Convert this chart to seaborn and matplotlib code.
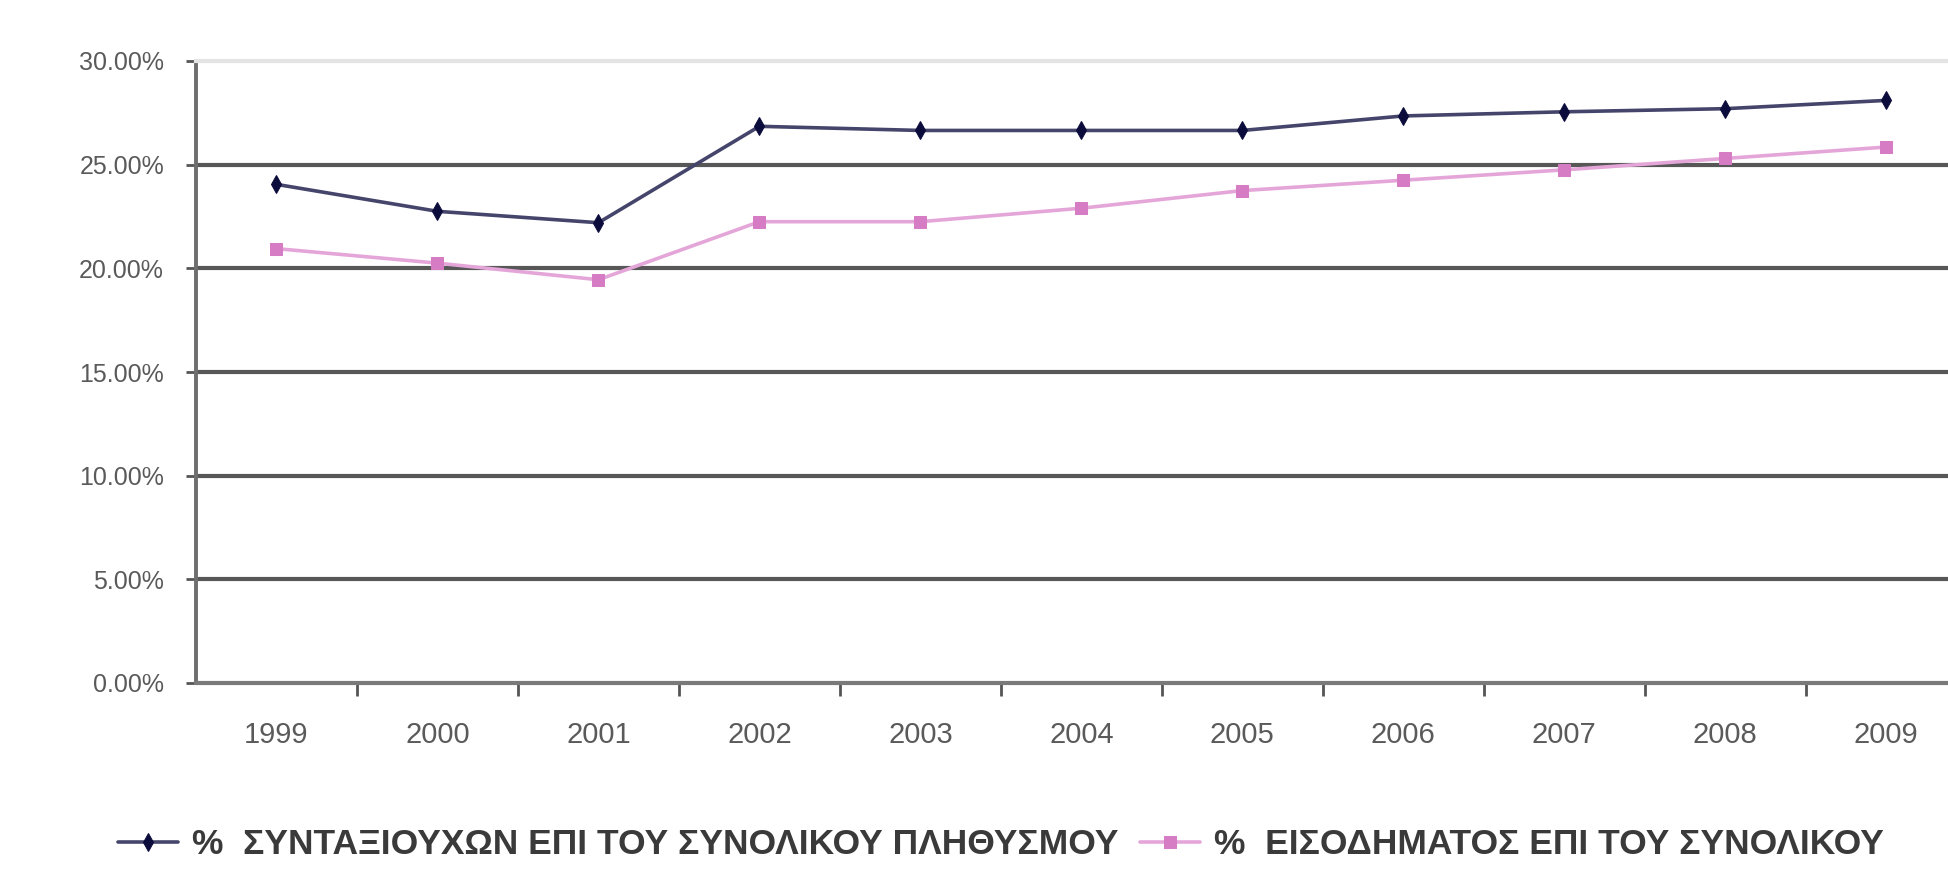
import pandas as pd
import matplotlib
matplotlib.use("Agg")
import matplotlib.pyplot as plt
from matplotlib.ticker import FixedLocator, PercentFormatter
import seaborn as sns

# Data
years = ["1999", "2000", "2001", "2002", "2003", "2004", "2005", "2006", "2007", "2008", "2009"]
pensioners_pct = [24.05, 22.75, 22.20, 26.85, 26.65, 26.65, 26.65, 27.35, 27.55, 27.70, 28.10]
income_pct = [20.95, 20.25, 19.45, 22.25, 22.25, 22.90, 23.75, 24.25, 24.75, 25.30, 25.85]
series_labels = [
    "%  ΣΥΝΤΑΞΙΟΥΧΩΝ ΕΠΙ ΤΟΥ ΣΥΝΟΛΙΚΟΥ ΠΛΗΘΥΣΜΟΥ",
    "%  ΕΙΣΟΔΗΜΑΤΟΣ ΕΠΙ ΤΟΥ ΣΥΝΟΛΙΚΟΥ",
]
y_ticks = [0.0, 0.05, 0.10, 0.15, 0.20, 0.25, 0.30]

sns.set_style("white")
plt.rcParams["font.family"] = ["Liberation Sans", "DejaVu Sans"]

df = pd.DataFrame({
    "year": years * 2,
    "value": [v / 100 for v in pensioners_pct] + [v / 100 for v in income_pct],
    "series": [series_labels[0]] * len(years) + [series_labels[1]] * len(years),
})

fig = plt.figure(figsize=(19.49, 8.69), dpi=100)
ax = fig.add_axes([196 / 1949, 1 - 683 / 869, 1 - 196 / 1949, (683 - 61) / 869])

styles = {
    series_labels[0]: dict(color="#45456c", marker="d", markersize=9,
                           markerfacecolor="#0c0c3c", markeredgecolor="#0c0c3c"),
    series_labels[1]: dict(color="#e4a6d8", marker="s", markersize=9,
                           markerfacecolor="#d67cc4", markeredgecolor="#d67cc4"),
}
for label in series_labels:
    sub = df[df["series"] == label]
    sns.lineplot(data=sub, x="year", y="value", ax=ax, linewidth=2.6,
                 label=label, sort=False, **styles[label])

# gridlines
for yv in y_ticks[1:-1]:
    ax.axhline(yv, color="#575757", linewidth=3, zorder=0)

ax.set_ylim(0, 0.30)
ax.set_xlim(-0.5, 10.39)
ax.yaxis.set_major_locator(FixedLocator(y_ticks))
ax.yaxis.set_major_formatter(PercentFormatter(xmax=1.0, decimals=2))
ax.xaxis.set_minor_locator(FixedLocator([i + 0.5 for i in range(len(years))]))

ax.spines["right"].set_visible(False)
ax.spines["top"].set_color("#e4e4e4")
ax.spines["top"].set_linewidth(3)
ax.spines["left"].set_color("#6e6e6e")
ax.spines["left"].set_linewidth(2.8)
ax.spines["bottom"].set_color("#7a7a7a")
ax.spines["bottom"].set_linewidth(3)

ax.tick_params(axis="y", which="major", left=True, length=7, width=2, color="#555555",
               labelsize=18, labelcolor="#5a5a5a", pad=16)
ax.tick_params(axis="x", which="major", bottom=False, labelsize=21, labelcolor="#5a5a5a", pad=24)
ax.tick_params(axis="x", which="minor", bottom=True, length=9, width=2, color="#555555")
ax.set_xlabel("")
ax.set_ylabel("")

handles, labels = ax.get_legend_handles_labels()
ax.get_legend().remove()
fig.legend(handles, labels, loc="center left", bbox_to_anchor=(118 / 1949, 1 - 845 / 869),
           ncol=2, frameon=False, handlelength=1.7, handletextpad=0.4, columnspacing=0.6,
           borderaxespad=0, borderpad=0,
           prop={"weight": "bold", "size": 25.5}, labelcolor="#3a3a3a")

fig.savefig("out.png", dpi=100)
